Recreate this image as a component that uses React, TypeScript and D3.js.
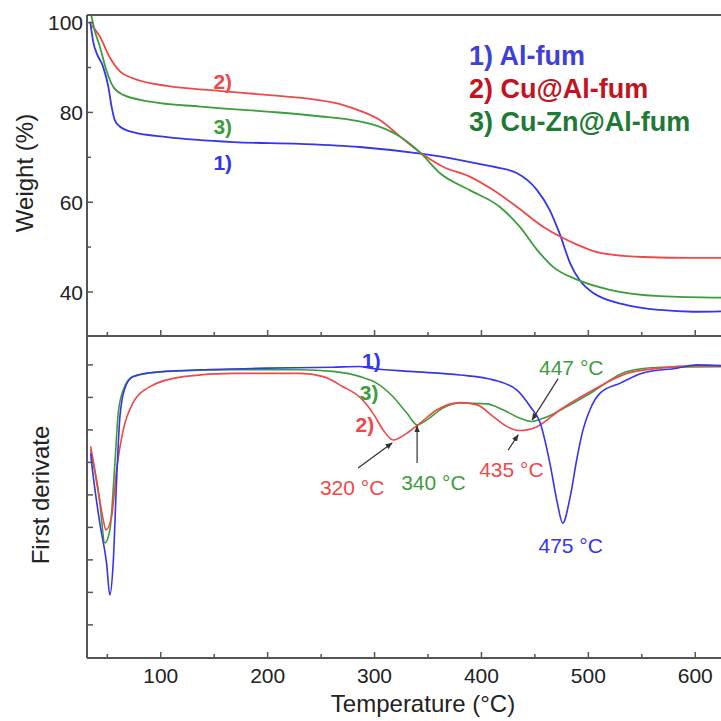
import React from 'react';
import * as d3 from 'd3';

// temperature (°C) vs weight (%) — top panel
const tgAl: [number, number][] = [[34,100.2],[37,95.5],[40,93.2],[46,90.2],[51,85.7],[54,81.3],[57,78.3],[62,76.8],[74,75.6],[106,74.5],[168,73.4],[230,73.0],[286,72.3],[343,70.8],[380,69.4],[411,67.9],[433,66.5],[452,62.7],[464,58.2],[473,53.1],[483,46.4],[492,42.6],[505,39.7],[536,37.1],[567,36.0],[598,35.6],[640,35.8]];
const tgCu: [number, number][] = [[35,99.5],[43,96.9],[52,92.4],[62,89.1],[74,87.6],[106,85.9],[149,84.9],[199,83.9],[246,82.8],[270,81.7],[286,80.4],[305,78.3],[324,74.6],[343,71],[364,67.9],[389,65.7],[411,62.7],[433,59],[458,54.5],[474,52.3],[490,50.5],[511,48.7],[551,47.8],[598,47.6],[640,47.6]];
const tgCuZn: [number, number][] = [[35,101.7],[38,98.4],[43,94.7],[49,89.5],[55.5,85.7],[65,83.9],[90,82.4],[137,81.3],[199,80.2],[246,79.2],[286,78],[305,76.8],[324,74.6],[343,71],[361,66.5],[389,62.7],[417,59],[436,54.5],[452,49.4],[467,45.6],[490,42.7],[520,40.5],[567,39.1],[640,38.7]];

// temperature vs first derivative (arb. units) — bottom panel
const dtgAl: [number, number][] = [[34.4,-2.72],[35.3,-3.0],[43,-4.87],[49.3,-6.1],[52.4,-7.08],[55.5,-6.1],[58.7,-3.54],[61.8,-1.59],[66.5,-0.71],[74,-0.36],[90,-0.24],[137,-0.15],[199,-0.1],[261,-0.07],[286,-0.05],[296,-0.1],[333,-0.2],[380,-0.31],[411,-0.46],[433,-0.77],[445.6,-1.28],[455,-1.79],[464,-3.02],[471,-4.25],[476,-4.87],[483,-4.06],[489.6,-2.83],[495,-2.0],[501.5,-1.38],[511,-0.87],[530,-0.56],[551,-0.25],[583,-0.1],[602,0],[640,-0.05]];
const dtgCu: [number, number][] = [[34.4,-2.51],[40,-3.54],[46.2,-4.77],[48.7,-5.08],[54,-4.67],[58.7,-3.23],[64.9,-2.0],[74,-1.17],[90,-0.67],[121,-0.36],[168,-0.26],[230,-0.26],[252,-0.36],[270.5,-0.67],[286.4,-1.0],[298.6,-1.49],[308,-2.0],[317.3,-2.31],[330.4,-2.1],[342.6,-1.79],[358.5,-1.38],[380,-1.16],[396,-1.23],[411,-1.59],[424,-1.9],[436,-2.02],[452,-1.9],[473.6,-1.38],[504.5,-0.77],[536,-0.26],[567,-0.1],[598,-0.03],[640,-0.05]];
const dtgCuZn: [number, number][] = [[34.4,-2.6],[43,-4.25],[47.7,-5.48],[52.4,-5.08],[57.1,-3.03],[60.2,-1.49],[64.9,-0.77],[74,-0.36],[106,-0.2],[168,-0.15],[230,-0.15],[261,-0.2],[286.4,-0.36],[302,-0.56],[317.3,-0.98],[330.4,-1.49],[340,-1.85],[349,-1.69],[364,-1.33],[380,-1.17],[405,-1.2],[420,-1.38],[436,-1.64],[447,-1.74],[461,-1.6],[480,-1.28],[504.5,-0.82],[536,-0.2],[567,-0.07],[640,-0.05]];

const tempTicks = [100, 200, 300, 400, 500, 600];
const tempMinorTicks = [50, 150, 250, 350, 450, 550];
const weightTicks = [40, 60, 80, 100];
const weightMinorTicks = [50, 70, 90];
const derivTicks = [0, -1, -2, -3, -4, -5, -6, -7, -8];

const legendLabels = ['1) Al-fum', '2) Cu@Al-fum', '3) Cu-Zn@Al-fum'];

const BLUE = '#3535ee';
const RED = '#f04848';
const GREEN = '#3d9d3d';
const AXIS = '#555';

// peak annotations: label, text position (T, value), arrow from -> to
const peaks = [
  { label: '320 °C', color: RED, t: 279, v: -4.0, arrow: [[284.6, -3.17], [316.4, -2.4]] },
  { label: '340 °C', color: GREEN, t: 355, v: -3.85, arrow: [[339.8, -3.02], [339.8, -1.88]] },
  { label: '435 °C', color: RED, t: 428, v: -3.45, arrow: [[425, -2.62], [434.3, -2.15]] },
  { label: '447 °C', color: GREEN, t: 484, v: -0.31, arrow: [[471.8, -0.42], [447.4, -1.69]] },
  { label: '475 °C', color: BLUE, t: 483.5, v: -5.78, arrow: null },
];

const App = () => {
  const W = 721, H = 721;
  const left = 87, top = 15, mid = 336, bottom = 658;

  const x = d3.scaleLinear().domain([31, 640]).range([left, 738]);
  const yTop = d3.scaleLinear().domain([30.2, 101.7]).range([mid, top]);
  const yBot = d3.scaleLinear().domain([-9.02, 0.89]).range([bottom, mid]);

  const lineTop = d3.line<[number, number]>().x(d => x(d[0])).y(d => yTop(d[1])).curve(d3.curveMonotoneX);
  const lineBot = d3.line<[number, number]>().x(d => x(d[0])).y(d => yBot(d[1])).curve(d3.curveMonotoneX);

  const font = "'Liberation Sans', Arial, sans-serif";

  return (
    <svg width={W} height={H} style={{ position: 'absolute', left: 0, top: 0, background: '#fff' }} fontFamily={font}>
      <defs>
        <clipPath id="clipTop"><rect x={left} y={top} width={W - left} height={mid - top} /></clipPath>
        <clipPath id="clipBot"><rect x={left} y={mid} width={W - left} height={bottom - mid} /></clipPath>
        <marker id="arr" viewBox="0 0 10 10" refX="9" refY="5" markerWidth="6" markerHeight="6" orient="auto">
          <path d="M0,1 L10,5 L0,9 z" fill="#333" />
        </marker>
      </defs>

      {/* top panel curves */}
      <g clipPath="url(#clipTop)" fill="none" strokeWidth={1.8}>
        <path d={lineTop(tgAl) ?? ''} stroke={BLUE} />
        <path d={lineTop(tgCu) ?? ''} stroke={RED} />
        <path d={lineTop(tgCuZn) ?? ''} stroke={GREEN} />
      </g>

      {/* bottom panel curves */}
      <g clipPath="url(#clipBot)" fill="none" strokeWidth={1.6}>
        <path d={lineBot(dtgCuZn) ?? ''} stroke={GREEN} />
        <path d={lineBot(dtgCu) ?? ''} stroke={RED} />
        <path d={lineBot(dtgAl) ?? ''} stroke={BLUE} />
      </g>

      {/* frames */}
      <g stroke={AXIS} strokeWidth={2} fill="none">
        <line x1={left} y1={top} x2={W} y2={top} />
        <line x1={left} y1={top} x2={left} y2={bottom} />
        <line x1={left} y1={mid} x2={W} y2={mid} />
        <line x1={left} y1={bottom} x2={W} y2={bottom} />
      </g>

      {/* x ticks on both panels' bottoms */}
      <g stroke={AXIS} strokeWidth={1.5}>
        {[mid, bottom].map(yy => (
          <g key={yy}>
            {tempTicks.map(t => <line key={t} x1={x(t)} x2={x(t)} y1={yy} y2={yy - 6} />)}
            {tempMinorTicks.map(t => <line key={t} x1={x(t)} x2={x(t)} y1={yy} y2={yy - 4} />)}
          </g>
        ))}
        {weightTicks.map(v => <line key={v} x1={left} x2={left + 6} y1={yTop(v)} y2={yTop(v)} />)}
        {weightMinorTicks.map(v => <line key={v} x1={left} x2={left + 4} y1={yTop(v)} y2={yTop(v)} />)}
        {derivTicks.map(v => <line key={v} x1={left} x2={left + 6} y1={yBot(v)} y2={yBot(v)} />)}
      </g>

      {/* tick labels */}
      <g fontSize={21} fill="#222">
        {tempTicks.map(t => (
          <text key={t} x={x(t)} y={683} textAnchor="middle">{t}</text>
        ))}
        {weightTicks.map(v => (
          <text key={v} x={left - 4} y={yTop(v) + 7.5} textAnchor="end">{v}</text>
        ))}
      </g>

      {/* axis titles */}
      <g fontSize={24} fill="#222">
        <text x={423} y={712} textAnchor="middle">Temperature (°C)</text>
        <text transform={`translate(33,${173}) rotate(-90)`} textAnchor="middle">Weight (%)</text>
        <text transform={`translate(49,${495}) rotate(-90)`} textAnchor="middle">First derivate</text>
      </g>

      {/* legend */}
      <g fontSize={27} fontWeight="bold">
        {legendLabels.map((l, i) => (
          <text key={l} x={469} y={65 + i * 33} fill={['#4040d8', '#c0141e', '#1e7a35'][i]}>{l}</text>
        ))}
      </g>

      {/* curve numbers */}
      <g fontSize={21} fontWeight="bold" textAnchor="middle">
        <text x={x(158)} y={yTop(85.2)} fill={RED}>2)</text>
        <text x={x(158)} y={yTop(75.2)} fill={GREEN}>3)</text>
        <text x={x(158)} y={yTop(67.2)} fill={BLUE}>1)</text>
        <text x={x(297)} y={yBot(-0.09)} fill={BLUE}>1)</text>
        <text x={x(295)} y={yBot(-1.08)} fill={GREEN}>3)</text>
        <text x={x(291)} y={yBot(-2.06)} fill={RED}>2)</text>
      </g>

      {/* peak annotations */}
      <g fontSize={21}>
        {peaks.map(p => (
          <g key={p.label}>
            <text x={x(p.t)} y={yBot(p.v)} fill={p.color} textAnchor="middle">{p.label}</text>
            {p.arrow && (
              <line x1={x(p.arrow[0][0])} y1={yBot(p.arrow[0][1])} x2={x(p.arrow[1][0])} y2={yBot(p.arrow[1][1])}
                stroke="#333" strokeWidth={1.2} markerEnd="url(#arr)" />
            )}
          </g>
        ))}
      </g>
    </svg>
  );
};

export default App;
